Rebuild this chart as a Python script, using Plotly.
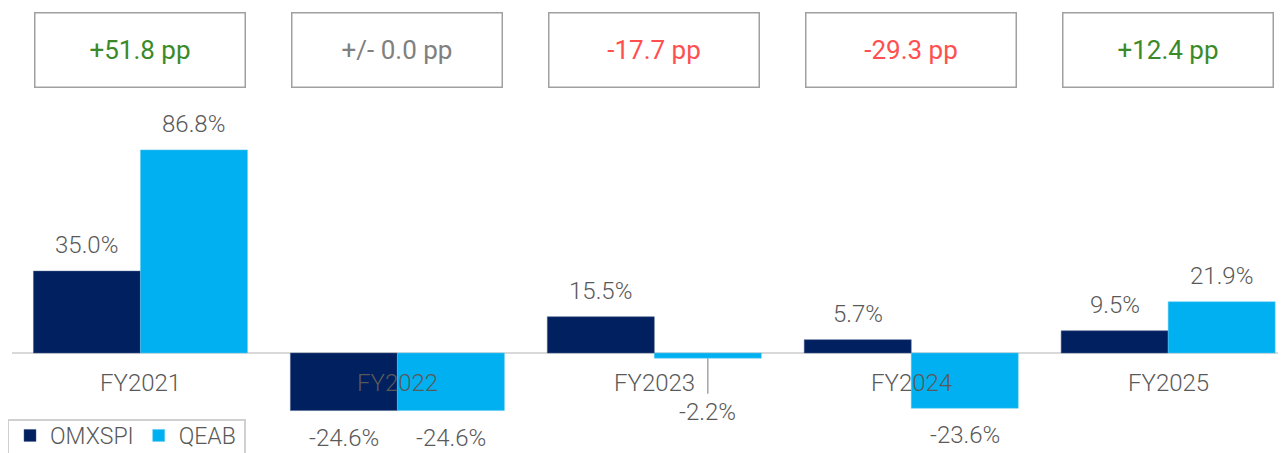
import plotly.graph_objects as go

categories = ["FY2021", "FY2022", "FY2023", "FY2024", "FY2025"]
omxspi = [35.0, -24.6, 15.5, 5.7, 9.5]
qeab = [86.8, -24.6, -2.2, -23.6, 21.9]
diff_labels = ["+51.8 pp", "+/- 0.0 pp", "-17.7 pp", "-29.3 pp", "+12.4 pp"]
diff_colors = ["#3B8A2A", "#808080", "#FF4F4F", "#FF4F4F", "#3B8A2A"]

NAVY = "#002060"
CYAN = "#00B0F0"
TXT = "#595959"
FONT = "Roboto"

# page body has an 8px default margin, so the figure starts at (8, 8) in the window
W, H = 1278, 445
ml, mr = 4, 3
zero_px = 345
ppu = 2.34
y_top = zero_px / ppu
y_bot = -(H - zero_px) / ppu
plot_w = W - ml - mr

xs = list(range(len(categories)))

fig = go.Figure()
fig.add_trace(go.Bar(x=xs, y=omxspi, name="OMXSPI", marker=dict(color=NAVY, line=dict(width=0.5, color="#4a5f8a"))))
fig.add_trace(go.Bar(x=xs, y=qeab, name="QEAB", marker=dict(color=CYAN, line=dict(width=0.5, color="#5cc8f0"))))

LBL = dict(family=FONT, size=24, color=TXT, weight=300)
ann = []
off = 0.5 * (1 - 0.167) / 2  # offset of each bar centre within its group
for i, c in enumerate(categories):
    ann.append(dict(x=i, y=0, xref="x", yref="y", text=c, showarrow=False, yshift=-30,
                    font=dict(family=FONT, size=24, color=TXT, weight=300)))
    for v, dx in ((omxspi[i], -off), (qeab[i], off)):
        label = f"{v:.1f}%"
        if v >= 0:
            ann.append(dict(x=i + dx, y=v, xref="x", yref="y", text=label, showarrow=False, yshift=26,
                            font=LBL))
        elif v > -5:
            ann.append(dict(x=i + dx, y=v, xref="x", yref="y", text=label, showarrow=True,
                            arrowhead=0, arrowwidth=1.5, arrowcolor="#A6A6A6", ax=0, ay=54,
                            standoff=0, startstandoff=3, font=LBL))
        else:
            ann.append(dict(x=i + dx, y=v, xref="x", yref="y", text=label, showarrow=False, yshift=-27,
                            font=LBL))
    ann.append(dict(x=i, y=(H - 41.5) / H, xref="x", yref="paper", yanchor="middle", xanchor="center",
                    text=diff_labels[i], showarrow=False,
                    width=203, height=67, bordercolor="#A0A0A0", borderwidth=1.5, borderpad=3,
                    bgcolor="white", font=dict(family=FONT, size=26, color=diff_colors[i])))

# legend frame (box open past the bottom edge, as in the reference)
fig.add_shape(type="rect", xref="paper", yref="paper",
              x0=(0 - ml) / plot_w, x1=(237 - ml) / plot_w,
              y0=-0.1, y1=(H - 412) / H,
              line=dict(color="#D0D0D0", width=2), fillcolor="white", layer="above")

fig.update_layout(
    width=W, height=H,
    margin=dict(l=ml, r=mr, t=0, b=0, autoexpand=False),
    paper_bgcolor="white", plot_bgcolor="white",
    barmode="group", bargap=0.167, bargroupgap=0,
    xaxis=dict(range=[-0.5, 4.447], showticklabels=False, showgrid=False, zeroline=False,
               showline=False, ticks=""),
    yaxis=dict(range=[y_bot, y_top], showticklabels=False, showgrid=False, zeroline=True,
               zerolinecolor="#D9D9D9", zerolinewidth=2, showline=False),
    annotations=ann,
    showlegend=True,
    legend=dict(orientation="h", x=(2 - ml) / plot_w, xanchor="left", y=(H - 406) / H, yanchor="top",
                borderwidth=0, bgcolor="rgba(0,0,0,0)",
                font=dict(family=FONT, size=23, color=TXT, weight=300),
                itemwidth=30, tracegroupgap=0),
    font=dict(family=FONT),
)

fig.write_html("out.html")
